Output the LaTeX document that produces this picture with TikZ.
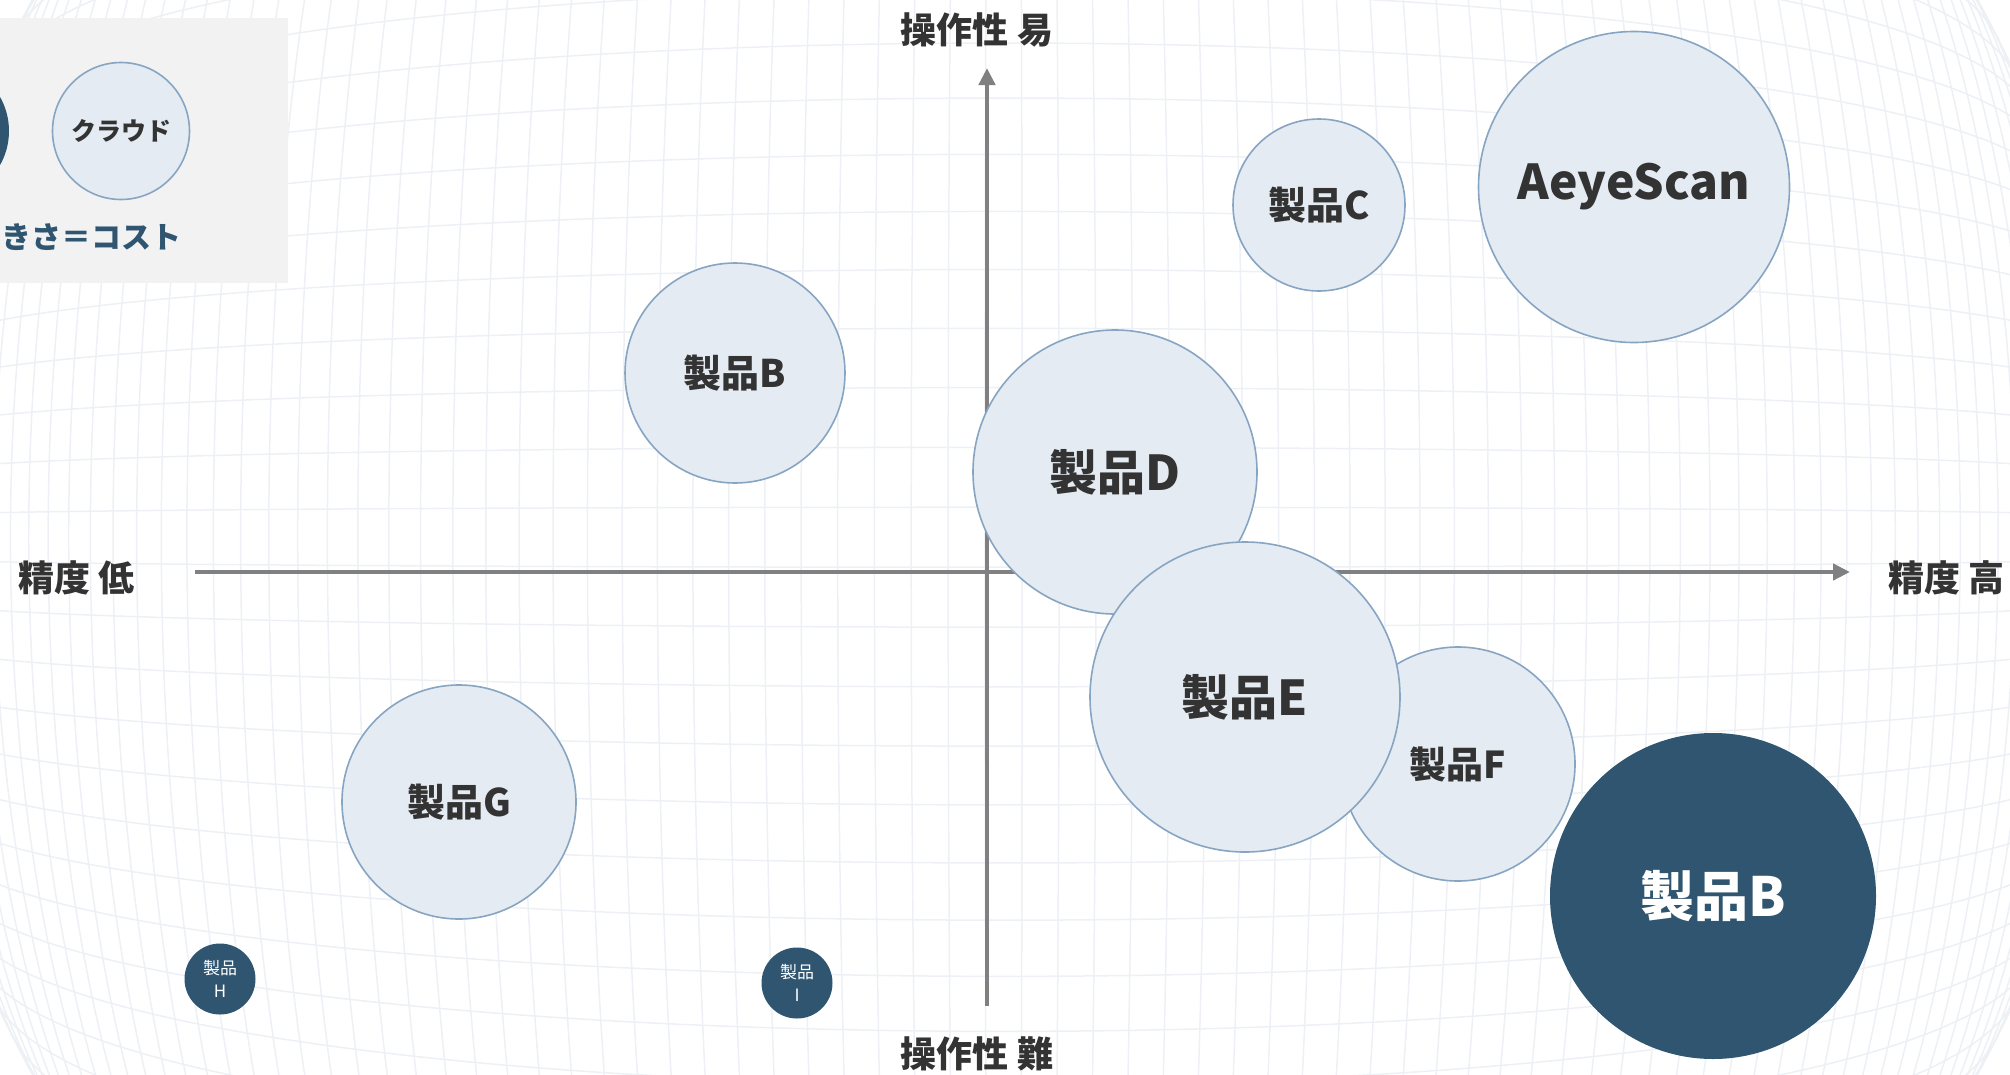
\documentclass[tikz,border=0pt]{standalone}
\usepackage{fontspec}
\setmainfont{Noto Sans CJK JP}
\usetikzlibrary{arrows.meta}
\definecolor{gridc}{HTML}{EDF1F5}
\definecolor{bubfill}{HTML}{E4EBF2}
\definecolor{bubline}{HTML}{87A5C2}
\definecolor{darkb}{HTML}{2F5570}
\definecolor{txt}{HTML}{333333}
\definecolor{axisc}{HTML}{808080}
\definecolor{legbg}{HTML}{F2F2F2}
\newcommand{\fs}[1]{\fontsize{#1}{#1}\selectfont}
\begin{document}
\begin{tikzpicture}[x=1pt,y=-1pt,
  bub/.style={circle, fill=bubfill, draw=bubline, line width=1.6pt, inner sep=0pt, text=txt, font=\bfseries},
  dbub/.style={circle, fill=darkb, draw=none, inner sep=0pt, text=white, font=\bfseries},
  axislbl/.style={text=txt, font=\bfseries\fs{36}, inner sep=0pt},
  axisline/.style={draw=axisc, line width=4.5pt, -{Triangle[length=17pt,width=16pt]}},
  gridline/.style={draw=gridc, line width=1.5pt}]
\useasboundingbox (0,0) rectangle (2010,1074);
\clip (0,0) rectangle (2010,1074);
\fill[white] (0,0) rectangle (2010,1074);
% background warped grid
\foreach \v in {-0.99,-0.93,...,1.0}
  \draw[gridline] plot[domain=-1.5:1.5, samples=40, smooth, variable=\u]
    ({1005+1000*\u*(1-0.12*(\u*\u+\v*\v))}, {537+1000*\v*(1-0.12*(\u*\u+\v*\v))});
\foreach \u in {-1.5,-1.463,...,1.51}
  \draw[gridline] plot[domain=-1:1, samples=30, smooth, variable=\v]
    ({1005+1000*\u*(1-0.12*(\u*\u+\v*\v))}, {537+1000*\v*(1-0.12*(\u*\u+\v*\v))});
% legend
\node[fill=legbg, minimum width=310pt, minimum height=265pt, inner sep=0pt, anchor=north east] (legbox) at (288,18) {};
\node[dbub, minimum size=138pt] (legdark) at (-60,131) {};
\node[bub, minimum size=137pt, font=\bfseries\fs{25}] (legcloud) at (121,131) {クラウド};
\node[text=darkb, font=\bfseries\fs{30}, anchor=east, inner sep=0pt] (legtext) at (182,237) {大きさ＝コスト};
% axes
\coordinate (xs) at (195,572);
\coordinate (xe) at (1850,572);
\coordinate (ys) at (987,1006);
\coordinate (ye) at (987,68);
\draw[axisline] (xs) -- (xe);
\draw[axisline] (ys) -- (ye);
\node[axislbl] (top) at (977,30) {操作性 易};
\node[axislbl] (bottom) at (977,1054) {操作性 難};
\node[axislbl, anchor=west] (left) at (18,578) {精度 低};
\node[axislbl, anchor=west] (right) at (1888,578) {精度 高};
% bubbles
\node[bub, minimum size=220pt, font=\bfseries\fs{38}] (pb) at (735,373) {製品B};
\node[bub, minimum size=172pt, font=\bfseries\fs{38}] (pc) at (1319,205) {製品C};
\node[bub, minimum size=311pt, font=\bfseries\fs{48}] (aeye) at (1634,187) {AeyeScan};
\node[bub, minimum size=284pt, font=\bfseries\fs{48}] (pd) at (1115,472) {製品D};
\node[bub, minimum size=234pt, font=\bfseries\fs{37}] (pf) at (1458,764) {製品F};
\node[bub, minimum size=310pt, font=\bfseries\fs{48}] (pe) at (1245,697) {製品E};
\node[dbub, minimum size=326pt, font=\bfseries\fs{54}] (pbd) at (1713,896) {製品B};
\node[bub, minimum size=234pt, font=\bfseries\fs{38}] (pg) at (459,802) {製品G};
\node[dbub, minimum size=71pt, font=\fs{17}, align=center] (ph) at (220,979) {製品\\[6pt]H};
\node[dbub, minimum size=71pt, font=\fs{17}, align=center] (pi) at (797,983) {製品\\[6pt]I};
\end{tikzpicture}
\end{document}
